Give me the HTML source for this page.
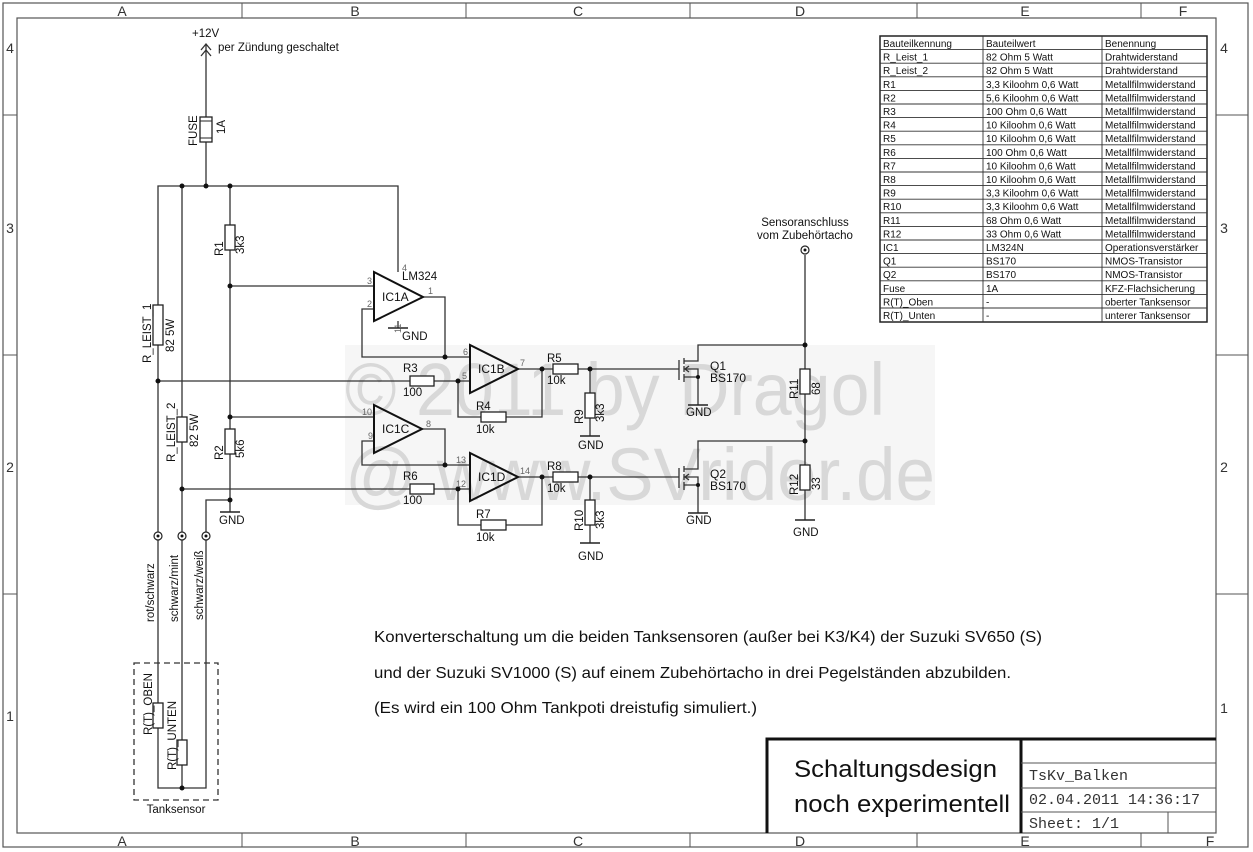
<!DOCTYPE html>
<html><head><meta charset="utf-8"><style>
html,body{margin:0;padding:0;background:#fff;}
svg{display:block;font-family:"Liberation Sans",sans-serif;}
.w{stroke:#333;stroke-width:1.3;fill:none}
.r{stroke:#222;stroke-width:1.3;fill:#fff}
.t{font-size:11.5px;fill:#111}
.p{font-size:9px;fill:#666}
.tb{font-size:10px;fill:#111}
</style></head><body>
<svg width="1253" height="852" viewBox="0 0 1253 852" xmlns="http://www.w3.org/2000/svg">
<!-- frame -->
<rect x="3" y="3" width="1245" height="844" fill="none" stroke="#555" stroke-width="1.2"/>
<rect x="17" y="18" width="1199" height="815" fill="none" stroke="#555" stroke-width="1.2"/>
<g stroke="#555" stroke-width="1">
<line x1="242" y1="3" x2="242" y2="18"/><line x1="466" y1="3" x2="466" y2="18"/><line x1="690" y1="3" x2="690" y2="18"/><line x1="917" y1="3" x2="917" y2="18"/><line x1="1141" y1="3" x2="1141" y2="18"/>
<line x1="242" y1="833" x2="242" y2="847"/><line x1="466" y1="833" x2="466" y2="847"/><line x1="690" y1="833" x2="690" y2="847"/><line x1="917" y1="833" x2="917" y2="847"/><line x1="1141" y1="833" x2="1141" y2="847"/>
<line x1="3" y1="115" x2="17" y2="115"/><line x1="3" y1="355" x2="17" y2="355"/><line x1="3" y1="594" x2="17" y2="594"/>
<line x1="1216" y1="115" x2="1248" y2="115"/><line x1="1216" y1="355" x2="1248" y2="355"/><line x1="1216" y1="594" x2="1248" y2="594"/>
</g>
<g font-size="14" fill="#333" text-anchor="middle">
<text x="122" y="16">A</text><text x="355" y="16">B</text><text x="578" y="16">C</text><text x="800" y="16">D</text><text x="1025" y="16">E</text><text x="1183" y="16">F</text>
<text x="122" y="846">A</text><text x="355" y="846">B</text><text x="578" y="846">C</text><text x="800" y="846">D</text><text x="1025" y="846">E</text><text x="1210" y="846">F</text>
<text x="10" y="53">4</text><text x="10" y="233">3</text><text x="10" y="472">2</text><text x="10" y="721">1</text>
<text x="1224" y="53">4</text><text x="1224" y="233">3</text><text x="1224" y="472">2</text><text x="1224" y="713">1</text>
</g>

<!-- watermark -->
<rect x="345" y="345" width="590" height="160" fill="#f6f6f6"/>
<g fill="#d8d8d8" font-size="74">
<text x="345" y="415" textLength="540" lengthAdjust="spacingAndGlyphs">© 2011 by Dragol</text>
<text x="345" y="500" textLength="590" lengthAdjust="spacingAndGlyphs">@ www.SVrider.de</text>
</g>

<!-- table -->
<g>
<rect x="880" y="36" width="327" height="286" fill="none" stroke="#222" stroke-width="1.5"/>
<g stroke="#333" stroke-width="0.9">
<line x1="983" y1="36" x2="983" y2="322"/><line x1="1102" y1="36" x2="1102" y2="322"/>
<line x1="880" y1="49.6" x2="1207" y2="49.6"/><line x1="880" y1="63.2" x2="1207" y2="63.2"/><line x1="880" y1="76.8" x2="1207" y2="76.8"/><line x1="880" y1="90.4" x2="1207" y2="90.4"/><line x1="880" y1="104" x2="1207" y2="104"/><line x1="880" y1="117.6" x2="1207" y2="117.6"/><line x1="880" y1="131.2" x2="1207" y2="131.2"/><line x1="880" y1="144.8" x2="1207" y2="144.8"/><line x1="880" y1="158.4" x2="1207" y2="158.4"/><line x1="880" y1="172" x2="1207" y2="172"/><line x1="880" y1="185.6" x2="1207" y2="185.6"/><line x1="880" y1="199.2" x2="1207" y2="199.2"/><line x1="880" y1="212.8" x2="1207" y2="212.8"/><line x1="880" y1="226.4" x2="1207" y2="226.4"/><line x1="880" y1="240" x2="1207" y2="240"/><line x1="880" y1="253.6" x2="1207" y2="253.6"/><line x1="880" y1="267.2" x2="1207" y2="267.2"/><line x1="880" y1="280.8" x2="1207" y2="280.8"/><line x1="880" y1="294.4" x2="1207" y2="294.4"/><line x1="880" y1="308" x2="1207" y2="308"/>
</g>
<g class="tb">
<text x="883" y="47">Bauteilkennung</text><text x="986" y="47">Bauteilwert</text><text x="1105" y="47">Benennung</text>
<text x="883" y="60.6">R_Leist_1</text><text x="986" y="60.6">82 Ohm 5 Watt</text><text x="1105" y="60.6">Drahtwiderstand</text>
<text x="883" y="74.2">R_Leist_2</text><text x="986" y="74.2">82 Ohm 5 Watt</text><text x="1105" y="74.2">Drahtwiderstand</text>
<text x="883" y="87.8">R1</text><text x="986" y="87.8">3,3 Kiloohm 0,6 Watt</text><text x="1105" y="87.8">Metallfilmwiderstand</text>
<text x="883" y="101.4">R2</text><text x="986" y="101.4">5,6 Kiloohm 0,6 Watt</text><text x="1105" y="101.4">Metallfilmwiderstand</text>
<text x="883" y="115">R3</text><text x="986" y="115">100 Ohm 0,6 Watt</text><text x="1105" y="115">Metallfilmwiderstand</text>
<text x="883" y="128.6">R4</text><text x="986" y="128.6">10 Kiloohm 0,6 Watt</text><text x="1105" y="128.6">Metallfilmwiderstand</text>
<text x="883" y="142.2">R5</text><text x="986" y="142.2">10 Kiloohm 0,6 Watt</text><text x="1105" y="142.2">Metallfilmwiderstand</text>
<text x="883" y="155.8">R6</text><text x="986" y="155.8">100 Ohm 0,6 Watt</text><text x="1105" y="155.8">Metallfilmwiderstand</text>
<text x="883" y="169.4">R7</text><text x="986" y="169.4">10 Kiloohm 0,6 Watt</text><text x="1105" y="169.4">Metallfilmwiderstand</text>
<text x="883" y="183">R8</text><text x="986" y="183">10 Kiloohm 0,6 Watt</text><text x="1105" y="183">Metallfilmwiderstand</text>
<text x="883" y="196.6">R9</text><text x="986" y="196.6">3,3 Kiloohm 0,6 Watt</text><text x="1105" y="196.6">Metallfilmwiderstand</text>
<text x="883" y="210.2">R10</text><text x="986" y="210.2">3,3 Kiloohm 0,6 Watt</text><text x="1105" y="210.2">Metallfilmwiderstand</text>
<text x="883" y="223.8">R11</text><text x="986" y="223.8">68 Ohm 0,6 Watt</text><text x="1105" y="223.8">Metallfilmwiderstand</text>
<text x="883" y="237.4">R12</text><text x="986" y="237.4">33 Ohm 0,6 Watt</text><text x="1105" y="237.4">Metallfilmwiderstand</text>
<text x="883" y="251">IC1</text><text x="986" y="251">LM324N</text><text x="1105" y="251">Operationsverstärker</text>
<text x="883" y="264.6">Q1</text><text x="986" y="264.6">BS170</text><text x="1105" y="264.6">NMOS-Transistor</text>
<text x="883" y="278.2">Q2</text><text x="986" y="278.2">BS170</text><text x="1105" y="278.2">NMOS-Transistor</text>
<text x="883" y="291.8">Fuse</text><text x="986" y="291.8">1A</text><text x="1105" y="291.8">KFZ-Flachsicherung</text>
<text x="883" y="305.4">R(T)_Oben</text><text x="986" y="305.4">-</text><text x="1105" y="305.4">oberter Tanksensor</text>
<text x="883" y="319">R(T)_Unten</text><text x="986" y="319">-</text><text x="1105" y="319">unterer Tanksensor</text>
</g>
</g>

<!-- wires -->
<g class="w">
<path d="M206 44 V186"/>
<path d="M201 50 L206 44 L211 50 M201 56 L206 50 L211 56"/>
<path d="M158 536 V186 H398 V272"/>
<path d="M182 186 V536"/>
<path d="M230 186 V500 H206 V536"/>
<path d="M230 500 V512"/>
<path d="M230 286 H374"/>
<path d="M230 417 H374"/>
<path d="M158 381 H470"/>
<path d="M182 489 H470"/>
<path d="M422 297 H445 V357 H362 V309 H374"/>
<path d="M445 357 H470"/>
<path d="M398 321 V328"/>
<path d="M422 429 H445 V465 H362 V441 H374"/>
<path d="M445 465 H470"/>
<path d="M458 381 V417 H542 V369"/>
<path d="M518 369 H679"/>
<path d="M458 489 V525 H542 V477"/>
<path d="M518 477 H679"/>
<path d="M590 369 V436"/>
<path d="M590 477 V543"/>
<path d="M679 360 V380"/>
<path d="M684 358 V364 M684 366 V372 M684 374 V382"/>
<path d="M684 361 H698 V345 H805 M684 377 H698 V405 M684 369 H698 V377"/>
<path d="M689 366 L685 369 L689 372"/>
<path d="M679 468 V488"/>
<path d="M684 466 V472 M684 474 V480 M684 482 V490"/>
<path d="M684 469 H698 V441 H805 M684 485 H698 V513 M684 477 H698 V485"/>
<path d="M689 474 L685 477 L689 480"/>
<path d="M805 255 V520"/>
<path d="M158 536 V788 H206 V536"/>
<path d="M182 536 V788"/>
</g>
<rect x="134" y="663" width="84" height="137" fill="none" stroke="#333" stroke-width="1.3" stroke-dasharray="6,4"/>

<g stroke="#222" stroke-width="1.5">
<line x1="388" y1="328" x2="408" y2="328"/>
<line x1="220" y1="512" x2="240" y2="512"/>
<line x1="580" y1="436" x2="600" y2="436"/>
<line x1="580" y1="543" x2="600" y2="543"/>
<line x1="688" y1="405" x2="708" y2="405"/>
<line x1="688" y1="513" x2="708" y2="513"/>
<line x1="795" y1="520" x2="815" y2="520"/>
</g>

<g stroke="#111" stroke-width="2" fill="none">
<path d="M374 272 L374 321 L423 297 Z"/>
<path d="M470 345 L470 393 L518 369 Z"/>
<path d="M374 405 L374 453 L422 429 Z"/>
<path d="M470 453 L470 501 L518 477 Z"/>
</g>
<rect x="200" y="117" width="12" height="25" class="r"/>
<line x1="200" y1="121" x2="212" y2="121" stroke="#222"/><line x1="200" y1="138" x2="212" y2="138" stroke="#222"/>

<g class="r">
<rect x="225" y="225" width="10" height="25"/>
<rect x="225" y="429" width="10" height="25"/>
<rect x="153" y="305" width="10" height="40"/>
<rect x="177" y="417" width="10" height="25"/>
<rect x="410" y="376" width="24" height="10"/>
<rect x="410" y="484" width="24" height="10"/>
<rect x="481" y="412" width="25" height="10"/>
<rect x="481" y="520" width="25" height="10"/>
<rect x="553" y="364" width="25" height="10"/>
<rect x="553" y="472" width="25" height="10"/>
<rect x="585" y="393" width="10" height="25"/>
<rect x="585" y="500" width="10" height="25"/>
<rect x="800" y="369" width="10" height="25"/>
<rect x="800" y="465" width="10" height="25"/>
<rect x="153" y="703" width="10" height="25"/>
<rect x="177" y="740" width="10" height="25"/>
</g>

<g fill="#111">
<circle cx="182" cy="186" r="2.5"/><circle cx="206" cy="186" r="2.5"/><circle cx="230" cy="186" r="2.5"/>
<circle cx="230" cy="286" r="2.5"/><circle cx="230" cy="417" r="2.5"/><circle cx="230" cy="500" r="2.5"/>
<circle cx="158" cy="381" r="2.5"/><circle cx="182" cy="489" r="2.5"/>
<circle cx="445" cy="357" r="2.5"/><circle cx="445" cy="465" r="2.5"/>
<circle cx="458" cy="381" r="2.5"/><circle cx="458" cy="489" r="2.5"/>
<circle cx="542" cy="369" r="2.5"/><circle cx="542" cy="477" r="2.5"/>
<circle cx="590" cy="369" r="2.5"/><circle cx="590" cy="477" r="2.5"/>
<circle cx="805" cy="345" r="2.5"/><circle cx="805" cy="441" r="2.5"/>
<circle cx="698" cy="377" r="2"/><circle cx="698" cy="485" r="2"/>
<circle cx="182" cy="788" r="2.5"/>
</g>
<g fill="#fff" stroke="#222" stroke-width="1.2">
<circle cx="158" cy="536" r="4"/><circle cx="182" cy="536" r="4"/><circle cx="206" cy="536" r="4"/><circle cx="805" cy="250" r="4"/>
</g>
<g fill="#111"><circle cx="158" cy="536" r="1.5"/><circle cx="182" cy="536" r="1.5"/><circle cx="206" cy="536" r="1.5"/><circle cx="805" cy="250" r="1.5"/></g>

<g class="t">
<text x="192" y="37">+12V</text>
<text x="218" y="51">per Zündung geschaltet</text>
<text transform="translate(197,146) rotate(-90)">FUSE</text>
<text transform="translate(225,134) rotate(-90)">1A</text>
<text transform="translate(223,256) rotate(-90)">R1</text>
<text transform="translate(244,254) rotate(-90)">3k3</text>
<text transform="translate(223,460) rotate(-90)">R2</text>
<text transform="translate(244,458) rotate(-90)">5k6</text>
<text transform="translate(151,363) rotate(-90)">R_LEIST_1</text>
<text transform="translate(174,352) rotate(-90)">82 5W</text>
<text transform="translate(175,462) rotate(-90)">R_LEIST_2</text>
<text transform="translate(198,447) rotate(-90)">82 5W</text>
<text x="402" y="280">LM324</text>
<text x="382" y="301" font-size="12">IC1A</text>
<text x="478" y="373" font-size="12">IC1B</text>
<text x="382" y="433" font-size="12">IC1C</text>
<text x="478" y="481" font-size="12">IC1D</text>
<text x="402" y="340">GND</text>
<text x="403" y="372">R3</text><text x="403" y="396">100</text>
<text x="403" y="480">R6</text><text x="403" y="504">100</text>
<text x="476" y="410">R4</text><text x="476" y="433">10k</text>
<text x="476" y="518">R7</text><text x="476" y="541">10k</text>
<text x="547" y="362">R5</text><text x="547" y="384">10k</text>
<text x="547" y="470">R8</text><text x="547" y="492">10k</text>
<text transform="translate(583,424) rotate(-90)">R9</text>
<text transform="translate(604,422) rotate(-90)">3k3</text>
<text transform="translate(583,531) rotate(-90)">R10</text>
<text transform="translate(604,529) rotate(-90)">3k3</text>
<text x="578" y="449">GND</text><text x="578" y="560">GND</text>
<text x="219" y="524">GND</text>
<text x="686" y="416">GND</text><text x="686" y="524">GND</text>
<text x="793" y="536">GND</text>
<text x="710" y="370" font-size="12">Q1</text><text x="710" y="382" font-size="12">BS170</text>
<text x="710" y="478" font-size="12">Q2</text><text x="710" y="490" font-size="12">BS170</text>
<text transform="translate(798,399) rotate(-90)">R11</text>
<text transform="translate(820,395) rotate(-90)">68</text>
<text transform="translate(798,495) rotate(-90)">R12</text>
<text transform="translate(820,490) rotate(-90)">33</text>
<text x="805" y="226" text-anchor="middle">Sensoranschluss</text>
<text x="805" y="239" text-anchor="middle">vom Zubehörtacho</text>
<text transform="translate(154,622) rotate(-90)">rot/schwarz</text>
<text transform="translate(178,622) rotate(-90)">schwarz/mint</text>
<text transform="translate(203,620) rotate(-90)">schwarz/weiß</text>
<text transform="translate(152,735) rotate(-90)">R(T)_OBEN</text>
<text transform="translate(176,770) rotate(-90)">R(T)_UNTEN</text>
<text x="176" y="813" text-anchor="middle">Tanksensor</text>
</g>
<g class="p">
<text x="367" y="284">3</text><text x="367" y="307">2</text><text x="402" y="271">4</text><text x="428" y="294">1</text><text transform="translate(401,333) rotate(-90)">11</text>
<text x="463" y="355">6</text><text x="462" y="379">5</text><text x="520" y="366">7</text>
<text x="362" y="415">10</text><text x="368" y="439">9</text><text x="426" y="427">8</text>
<text x="456" y="463">13</text><text x="456" y="487">12</text><text x="520" y="474">14</text>
</g>

<g font-size="16" fill="#111">
<text x="374" y="642" textLength="668" lengthAdjust="spacingAndGlyphs">Konverterschaltung um die beiden Tanksensoren (außer bei K3/K4) der Suzuki SV650 (S)</text>
<text x="374" y="678" textLength="637" lengthAdjust="spacingAndGlyphs">und der Suzuki SV1000 (S) auf einem Zubehörtacho in drei Pegelständen abzubilden.</text>
<text x="374" y="713" textLength="383" lengthAdjust="spacingAndGlyphs">(Es wird ein 100 Ohm Tankpoti dreistufig simuliert.)</text>
</g>

<g stroke="#111" fill="none">
<path d="M767 833 V739 H1216" stroke-width="3"/>
<path d="M1021 739 V833" stroke-width="3"/>
<path d="M1021 763 H1216 M1021 788 H1216 M1021 812 H1216 M1168 812 V833" stroke-width="1" stroke="#555"/>
</g>
<text x="794" y="777" font-size="24" fill="#111" textLength="203" lengthAdjust="spacingAndGlyphs">Schaltungsdesign</text>
<text x="794" y="812" font-size="24" fill="#111" textLength="216" lengthAdjust="spacingAndGlyphs">noch experimentell</text>
<g font-family="'Liberation Mono',monospace" font-size="15" fill="#333">
<text x="1029" y="780">TsKv_Balken</text>
<text x="1029" y="804">02.04.2011 14:36:17</text>
<text x="1029" y="828">Sheet: 1/1</text>
</g>
</svg>
</body></html>
